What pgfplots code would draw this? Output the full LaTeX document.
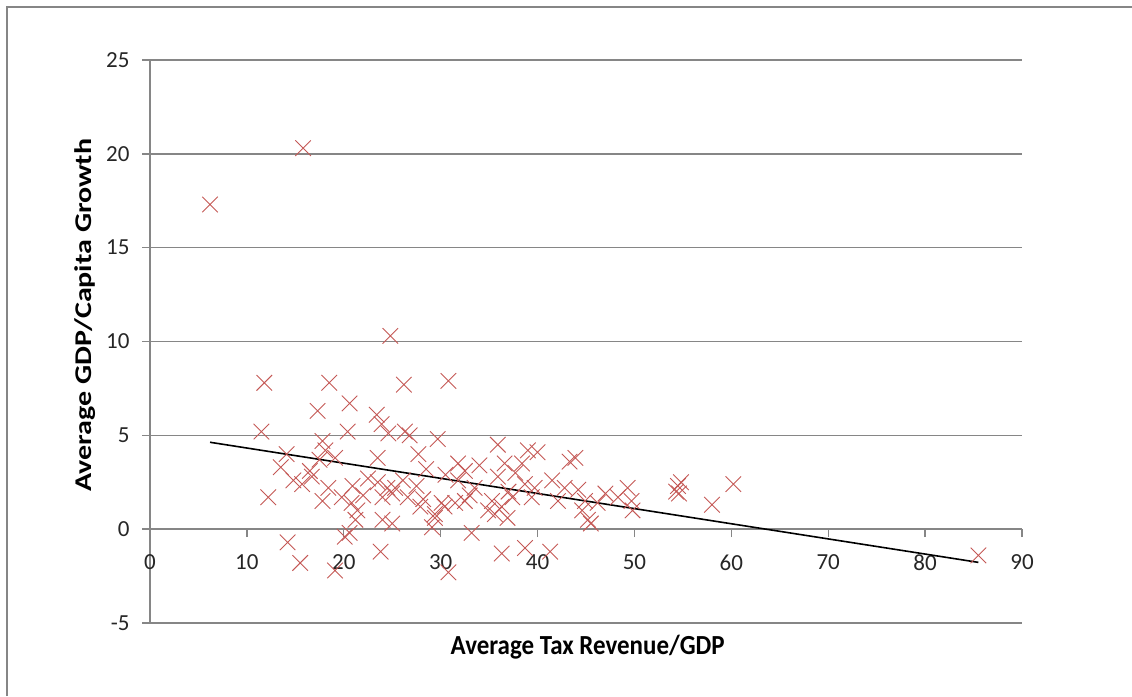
\documentclass[border=0pt]{standalone}
\usepackage{pgfplots}
\pgfplotsset{compat=1.18}
\usepackage{fontspec}
\setmainfont{Carlito}
\definecolor{gridgray}{RGB}{134,134,134}
\definecolor{xred}{RGB}{196,88,85}
\begin{document}
\begin{tikzpicture}[x=1pt,y=1pt]
\useasboundingbox (0,0) rectangle (1132,696);
\draw[gridgray,line width=1.6pt] (7,0) -- (7,689) -- (1132,689);
\begin{axis}[
  at={(150pt,73pt)}, anchor=south west,
  scale only axis, width=872pt, height=563pt,
  xmin=0, xmax=90, ymin=-5, ymax=25,
  axis x line=middle, axis y line=left,
  axis line style={-, gridgray, line width=1.6pt},
  hide obscured x ticks=false,
  xtick={0,10,...,90}, ytick={-5,0,...,25},
  ymajorgrids, major grid style={gridgray, line width=1.6pt},
  major tick style={gridgray, line width=1.4pt},
  xtick align=outside, ytick align=outside,
  major tick length=8pt,
  tick label style={font=\fontsize{23}{26}\selectfont, text=black!85},
  xticklabel style={yshift=-14pt},
  yticklabel style={xshift=-9pt},
  /pgf/number format/assume math mode=true,
  clip=false,
  xlabel={\scalebox{1.04}[1.15]{\bfseries Average Tax Revenue/GDP}},
  ylabel={\scalebox{1.25}[1.0]{\bfseries Average GDP/Capita Growth}},
  label style={font=\fontsize{24}{27}\selectfont},
  xlabel style={at={(axis description cs:0.502,-0.043)}, anchor=center},
  ylabel style={at={(axis description cs:-0.0745,0.547)}, anchor=center, rotate=0},
]
\addplot[only marks, mark=x, mark size=11pt, mark options={xred, line width=0.9pt}] coordinates {
(6.2,17.3) (15.8,20.3) (85.5,-1.4) (24.8,10.3)
(11.8,7.8) (18.5,7.8) (26.2,7.7) (30.8,7.9)
(17.3,6.3) (20.6,6.7) (23.4,6.1) (23.9,5.6)
(11.5,5.2) (17.8,4.7) (20.4,5.2) (24.6,5.1) (26.3,5.2) (26.8,5.0) (29.7,4.8)
(14.1,4.0) (18.1,4.2) (19.1,3.8) (17.5,3.7) (23.5,3.8) (27.7,4.0)
(35.9,4.5) (39.0,4.2) (40.0,4.1) (43.9,3.8) (43.3,3.6)
(31.8,3.5) (32.5,3.1) (36.6,3.5) (38.4,3.5) (37.7,3.0) (35.9,2.8) (31.8,2.6) (33.5,2.2)
(12.2,1.7) (14.8,2.6) (15.7,2.4) (16.7,2.8) (17.8,1.5) (18.4,2.2) (19.8,1.7)
(20.8,1.4) (21.4,1.0) (21.2,0.5) (20.6,-0.2) (20.1,-0.4) (19.1,-2.2)
(14.2,-0.7) (15.5,-1.8)
(22.5,2.7) (23.5,2.5) (24.5,2.2) (25.3,2.2) (26.1,2.6) (24.0,1.7) (25.0,1.9) (26.6,1.7)
(25.0,0.3) (24.0,0.5) (23.8,-1.2)
(27.5,2.3) (28.2,1.6) (29.4,0.6) (29.1,0.1) (30.1,1.4) (28.5,3.2) (30.5,2.9)
(32.5,1.5) (31.5,1.4) (30.4,1.2) (29.4,0.8) (33.2,-0.2) (30.8,-2.3)
(35.3,1.5) (34.9,1.0) (35.6,0.8) (36.3,1.2) (37.4,1.7) (38.7,2.4) (39.7,2.2) (39.4,1.7)
(36.9,0.6) (36.3,-1.3) (38.7,-1.0) (41.3,-1.2)
(41.5,2.6) (42.8,2.2) (42.1,1.5) (44.2,2.1) (44.9,1.5) (44.6,1.0) (45.2,0.5) (45.5,0.3)
(46.2,1.4) (47.0,1.9) (48.3,1.7) (49.3,2.2) (49.7,1.5) (49.8,1.0)
(54.3,2.0) (54.5,2.3) (54.8,2.5) (54.6,1.9) (58.0,1.3) (60.2,2.4)
(34.0,3.4) (33.0,1.8) (37.0,2.0) (27.9,1.2) (22.0,1.8) (20.9,2.3) (16.5,3.1) (13.5,3.3)
};
\addplot[black, line width=1.6pt] coordinates {(6.2,4.63) (85.5,-1.77)};
\end{axis}
\end{tikzpicture}
\end{document}
